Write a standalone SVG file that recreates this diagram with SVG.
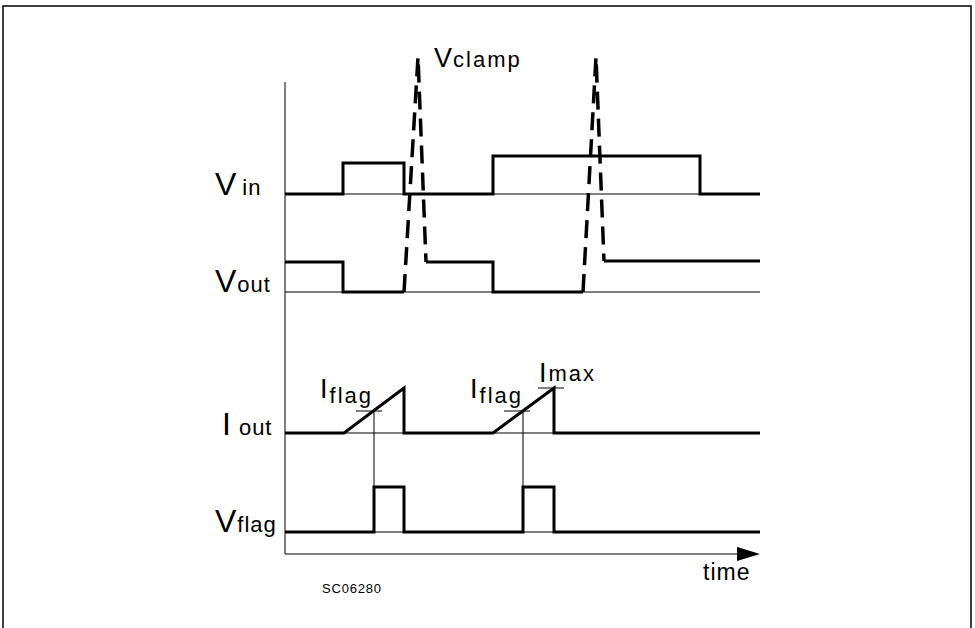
<svg xmlns="http://www.w3.org/2000/svg" width="975" height="628" viewBox="0 0 975 628">
<style>
.thin{fill:none;stroke:#000;stroke-width:1}
.thick{fill:none;stroke:#000;stroke-width:3;stroke-linejoin:miter}
.dash{fill:none;stroke:#000;stroke-width:3.5;stroke-dasharray:18 9}
.lbl{font-family:"Liberation Sans",Arial,sans-serif;fill:#000}
.big{font-size:32px}
.sub{font-size:22px;letter-spacing:1px}
.mid{font-size:27px}
.msub{font-size:22px;letter-spacing:2px}
</style>
<rect x="3" y="6" width="968" height="630" fill="none" stroke="#000" stroke-width="1.5"/>
<g id="axes">
<line class="thin" x1="285" y1="82" x2="285" y2="554"/>
<line class="thin" x1="285" y1="554" x2="740" y2="554"/>
<polygon points="737,547 760,554 737,561" fill="#000"/>
<line class="thin" x1="285" y1="194" x2="760" y2="194"/>
<line class="thin" x1="285" y1="292" x2="760" y2="292"/>
<line class="thin" x1="285" y1="433" x2="760" y2="433"/>
<line class="thin" x1="285" y1="532" x2="760" y2="532"/>
</g>
<g id="connectors">
<polyline id="vin" class="thick" points="285,194 343,194 343,163 404,163 404,194 493,194 493,156 700,156 700,194 760,194"/>
<polyline id="vout1" class="thick" points="285,262 343,262 343,292 404,292"/>
<polyline id="vout2" class="thick" points="426,262 493,262 493,292 583,292"/>
<polyline id="vout3" class="thick" points="604,261 760,261"/>
<polyline class="dash" points="404,292 418,57 426,262"/>
<polyline class="dash" points="583,292 596,57 604,261"/>
<polyline id="iout" class="thick" points="285,433 344,433 404,388 404,433 493,433 554,388 554,433 760,433"/>
<polyline id="vflag" class="thick" points="285,532 374,532 374,487 404,487 404,532 523,532 523,487 554,487 554,532 760,532"/>
<line class="thin" x1="374" y1="411" x2="374" y2="487"/>
<line class="thin" x1="523" y1="411" x2="523" y2="487"/>
<line class="thin" x1="356" y1="411" x2="382" y2="411"/>
<line class="thin" x1="504" y1="411" x2="530" y2="411"/>
<line class="thin" x1="538" y1="388" x2="564" y2="388"/>
</g>
<g id="labels">
<text class="lbl big" x="215" y="195">V<tspan class="sub" dx="6">in</tspan></text>
<text class="lbl big" x="215" y="292">V<tspan class="sub" dx="1">out</tspan></text>
<text class="lbl big" x="222" y="435">I<tspan class="sub" dx="8">out</tspan></text>
<text class="lbl big" x="215" y="532">V<tspan class="sub" dx="1">flag</tspan></text>
<text class="lbl mid" x="434" y="67">V<tspan class="msub" dx="1">clamp</tspan></text>
<text class="lbl mid" x="320" y="398">I<tspan class="msub" dx="2" dy="5">flag</tspan></text>
<text class="lbl mid" x="470" y="398">I<tspan class="msub" dx="2" dy="5">flag</tspan></text>
<text class="lbl mid" x="539" y="382">I<tspan class="msub" dx="2" dy="-1">max</tspan></text>
<text class="lbl" x="703" y="580" font-size="23" letter-spacing="1">time</text>
<text class="lbl" x="322" y="593" font-size="13" letter-spacing="0.8" font-family="Liberation Mono,monospace">SC06280</text>
</g>
</svg>
